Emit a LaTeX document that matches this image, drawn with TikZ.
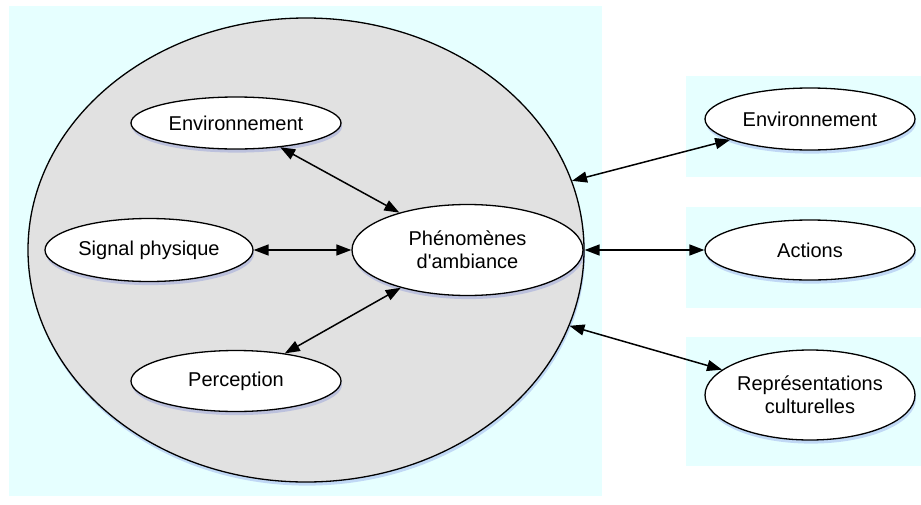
\documentclass[tikz,border=0pt]{standalone}
\usepackage{fontspec}
\setmainfont{Liberation Sans}
\usetikzlibrary{shapes.geometric, arrows.meta, shadows}
\definecolor{fondciel}{RGB}{230,255,255}
\definecolor{grismonde}{RGB}{225,225,225}
\definecolor{ombre}{RGB}{60,80,210}
\tikzset{
  zone/.style={fill=fondciel, draw=none},
  bulle/.style={ellipse, draw, fill=white, line width=0.65pt, inner sep=0pt, align=center,
    font=\fontsize{10}{11.5}\selectfont,
    general shadow={fill=ombre, opacity=0.22, shadow xshift=0.5pt, shadow yshift=-1.8pt}},
  arrow/.style={arrows={Triangle[length=7.5pt,width=5.5pt]-Triangle[length=7.5pt,width=5.5pt]}, line width=0.75pt},
}

\begin{document}
\begin{tikzpicture}[x=0.5pt, y=-0.5pt]
    \useasboundingbox (0,0) rectangle (921,504);
    % fonds
    \fill[zone] (9,6) rectangle (602,496);
    \fill[zone] (686,76) rectangle (921,177);
    \fill[zone] (686,207) rectangle (921,308);
    \fill[zone] (686,337) rectangle (921,466);

    \node[bulle, fill=grismonde, minimum width=278pt, minimum height=232pt] (monde) at (306,250) {};
    \node[bulle, minimum width=105pt, minimum height=26pt] (env) at (236,123) {Environnement};
    \node[bulle, minimum width=104pt, minimum height=31.5pt] (signal) at (149,250) {Signal physique};
    \node[bulle, minimum width=105pt, minimum height=30.5pt] (perception) at (236,381) {Perception};
    \node[bulle, minimum width=115.5pt, minimum height=45.5pt] (phen) at (467.5,250) {Phénomènes\\d\textquotesingle ambiance};

    \node[bulle, minimum width=105pt, minimum height=31pt] (envext) at (810,119) {Environnement};
    \node[bulle, minimum width=105pt, minimum height=30pt] (actions) at (810,250) {Actions};
    \node[bulle, minimum width=105pt, minimum height=45pt] (repr) at (810,395) {Représentations\\culturelles};

    \draw[arrow] (env) -- (phen);
    \draw[arrow] (signal) -- (phen);
    \draw[arrow] (perception) -- (phen);
    \draw[arrow] (monde) -- (envext);
    \draw[arrow] (monde) -- (actions);
    \draw[arrow] (monde) -- (repr);
\end{tikzpicture}
\end{document}
